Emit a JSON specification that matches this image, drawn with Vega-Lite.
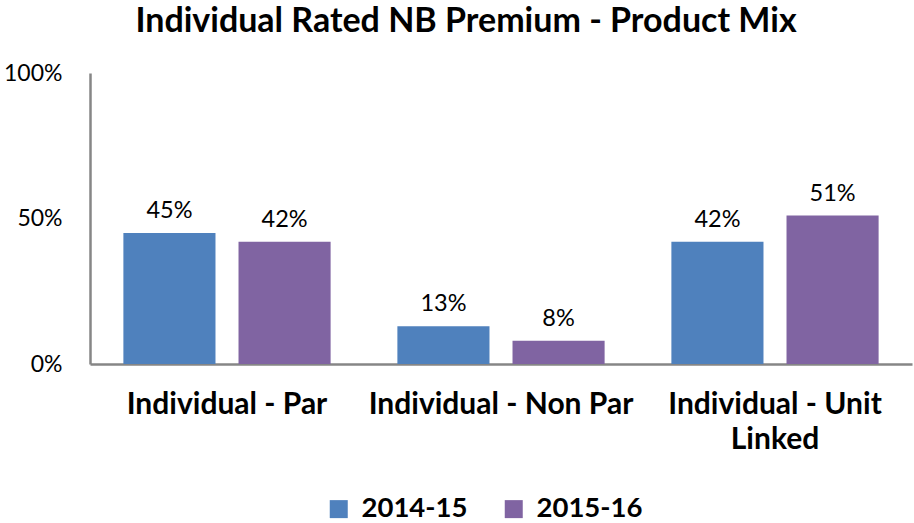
{
  "$schema": "https://vega.github.io/schema/vega-lite/v6.json",
  "width": 822,
  "height": 291,
  "autosize": {"type": "none"},
  "padding": {"left": 90, "top": 73, "right": 2, "bottom": 159},
  "background": "white",
  "title": {
    "text": "Individual Rated NB Premium - Product Mix",
    "font": "Lato",
    "fontSize": 34,
    "fontWeight": "bold",
    "color": "#000000",
    "anchor": "middle",
    "dx": -35,
    "offset": 23
  },
  "data": {
    "values": [
      {"category": "Individual - Par", "year": "2014-15", "value": 0.45},
      {"category": "Individual - Par", "year": "2015-16", "value": 0.42},
      {"category": "Individual - Non Par", "year": "2014-15", "value": 0.13},
      {"category": "Individual - Non Par", "year": "2015-16", "value": 0.08},
      {"category": "Individual - Unit Linked", "year": "2014-15", "value": 0.42},
      {"category": "Individual - Unit Linked", "year": "2015-16", "value": 0.51}
    ]
  },
  "encoding": {
    "x": {
      "field": "category",
      "type": "nominal",
      "sort": null,
      "scale": {"paddingInner": 0, "paddingOuter": 0},
      "axis": {
        "title": null,
        "labelAngle": 0,
        "labelFont": "Lato",
        "labelFontSize": 30,
        "labelFontWeight": "bold",
        "labelColor": "#000000",
        "labelPadding": 25,
        "labelLimit": 400,
        "labelLineHeight": 35,
        "labelExpr": "datum.value == 'Individual - Unit Linked' ? ['Individual - Unit', 'Linked'] : datum.value",
        "ticks": false,
        "domainColor": "#868686",
        "domainWidth": 2.5,
        "grid": false
      }
    },
    "xOffset": {
      "field": "year",
      "type": "nominal",
      "scale": {"paddingInner": 0.2, "paddingOuter": 0.29}
    },
    "y": {
      "field": "value",
      "type": "quantitative",
      "scale": {"domain": [0, 1]},
      "axis": {
        "title": null,
        "values": [0, 0.5, 1],
        "format": ".0%",
        "labelFont": "Lato",
        "labelFontSize": 23,
        "labelColor": "#000000",
        "labelPadding": 28,
        "ticks": false,
        "grid": false,
        "domainColor": "#868686",
        "domainWidth": 2.5
      }
    },
    "color": {
      "field": "year",
      "type": "nominal",
      "scale": {"domain": ["2014-15", "2015-16"], "range": ["#4F81BD", "#8064A2"]},
      "legend": {
        "title": null,
        "orient": "none",
        "legendX": 235,
        "legendY": 422,
        "padding": 0,
        "direction": "horizontal",
        "symbolType": "square",
        "symbolSize": 324,
        "symbolStrokeWidth": 0,
        "labelFont": "Lato",
        "labelFontSize": 27.5,
        "labelFontWeight": "bold",
        "labelColor": "#000000",
        "labelOffset": 9,
        "columnPadding": 32
      }
    }
  },
  "layer": [
    {"mark": {"type": "bar"}},
    {
      "mark": {"type": "text", "baseline": "bottom", "dy": -10, "font": "Lato", "fontSize": 23.5, "color": "#000000"},
      "encoding": {
        "text": {"field": "value", "type": "quantitative", "format": ".0%"},
        "color": {"value": "#000000"}
      }
    }
  ],
  "config": {
    "view": {"stroke": null}
  }
}
